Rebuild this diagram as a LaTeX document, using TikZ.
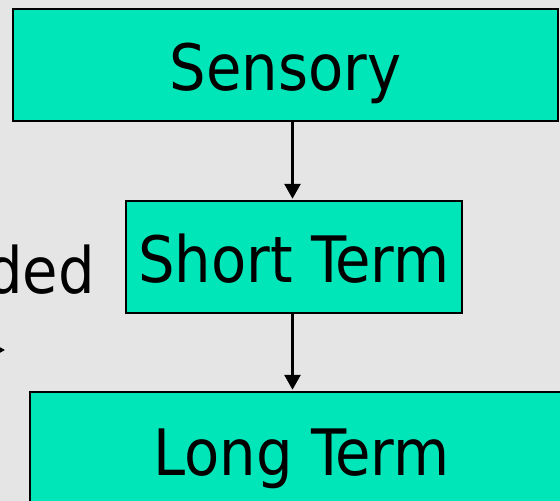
\documentclass[tikz,border=0pt]{standalone}
\usepackage{fontspec}
\setmainfont{DejaVu Sans Condensed}
\usetikzlibrary{arrows.meta}
\definecolor{bg}{RGB}{229,229,229}
\definecolor{teal}{RGB}{0,230,185}
\tikzset{
  memory/.style={draw=black, line width=2.5pt, fill=teal, rectangle, inner sep=0pt,
    text height=51pt, text depth=0pt, font=\fontsize{64}{76}\selectfont},
  flow/.style={draw=black, line width=2.8pt, -{Triangle[length=15pt,width=16pt]}, shorten >=1pt},
  lbl/.style={inner sep=0pt, font=\fontsize{64}{76}\selectfont}
}
\begin{document}
\begin{tikzpicture}[x=1pt,y=-1pt]
\useasboundingbox (0,0) rectangle (560,501);
\fill[bg] (0,0) rectangle (560,501);
\clip (0,0) rectangle (560,501);
\node[memory, minimum width=545pt, minimum height=112pt] (sens) at (285.5,65) {Sensory};
\node[memory, minimum width=336pt, minimum height=112pt] (short) at (294,257) {Short Term};
\node[memory, minimum width=543pt, minimum height=116pt] (long) at (301.5,450) {Long Term};
\draw[flow] (sens.south -| 292.5,0) -- (short.north -| 292.5,0);
\draw[flow] (short.south -| 292.5,0) -- (long.north -| 292.5,0);
\node[lbl, anchor=base east] (enc) at (95,293) {ded};
\coordinate (src) at (-40,350);
\coordinate (tip) at (5,350);
\draw[flow, shorten >=0pt] (src) -- (tip);
\end{tikzpicture}
\end{document}
